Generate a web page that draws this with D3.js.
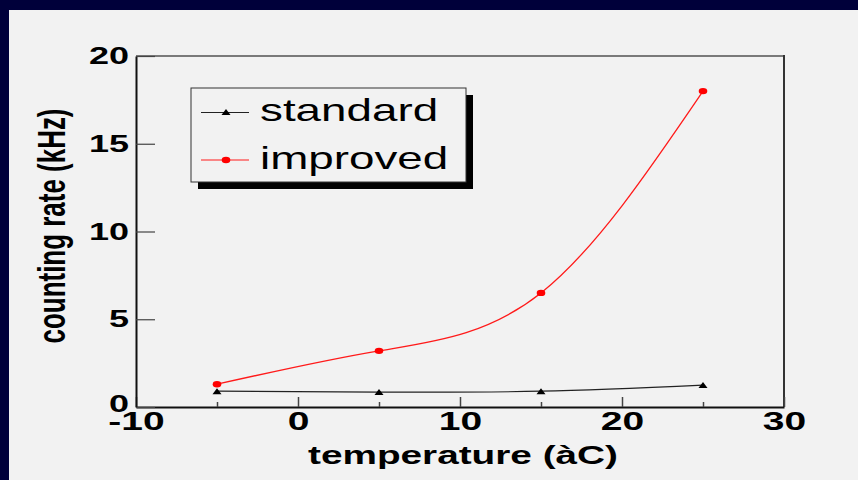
<!DOCTYPE html>
<html>
<head>
<meta charset="utf-8">
<script src="https://cdn.jsdelivr.net/npm/d3@7"></script>
<style>
  html, body { margin: 0; padding: 0; background: #00003a; }
  svg { display: block; }
  text { font-family: "Liberation Sans", Arial, sans-serif; }
</style>
</head>
<body>
<svg id="chart" width="858" height="480"></svg>
<script>
// Measured counting rates versus temperature
const temperatures = [-5, 5, 15, 25];
const standardRate = [0.9, 0.85, 0.9, 1.25];
const improvedRate = [1.3, 3.2, 6.5, 18];
const seriesNames = ["standard", "improved"];
const xMajorTicks = [-10, 0, 10, 20, 30];
const xMinorTicks = [-5, 5, 15, 25];
const yTicks = [0, 5, 10, 15, 20];
const xTitle = "temperature (àC)";
const yTitle = "counting rate (kHz)";

const W = 858, H = 480;
const frame = { left: 136, right: 784, top: 56, bottom: 407 };
const stretch = 1.5; // horizontal text widening

const svg = d3.select("#chart");

// backdrop and canvas
svg.append("rect").attr("width", W).attr("height", H).attr("fill", "#00003a");
svg.append("rect").attr("x", 9).attr("y", 10).attr("width", W - 9).attr("height", H - 10)
  .attr("fill", "#f2f2f2");

const x = d3.scaleLinear().domain([-10, 30]).range([frame.left, frame.right]);
const y = d3.scaleLinear().domain([0, 20]).range([frame.bottom, frame.top]);

function widen(sel, factor) {
  sel.each(function () {
    const w = this.getComputedTextLength();
    d3.select(this).attr("textLength", w * factor).attr("lengthAdjust", "spacingAndGlyphs");
  });
}

// frame: top and right edges
svg.append("line").attr("x1", frame.left).attr("x2", frame.right)
  .attr("y1", frame.top).attr("y2", frame.top)
  .attr("stroke", "#7a7a7a").attr("stroke-width", 2);
svg.append("line").attr("x1", frame.right).attr("x2", frame.right)
  .attr("y1", frame.top - 1).attr("y2", frame.bottom)
  .attr("stroke", "#333").attr("stroke-width", 2);

// x axis, major ticks with labels (plain hyphen for negatives)
const xAxis = svg.append("g").attr("transform", `translate(0,${frame.bottom})`)
  .call(d3.axisBottom(x).tickValues(xMajorTicks).tickSizeInner(-10).tickSizeOuter(0).tickPadding(5)
    .tickFormat(d => String(d)));
xAxis.select(".domain").attr("stroke", "#111").attr("stroke-width", 2);
xAxis.selectAll(".tick line").attr("stroke", "#444").attr("stroke-width", 1.5);
xAxis.selectAll(".tick text").attr("font-size", 26).attr("font-weight", "bold").attr("fill", "#000")
  .attr("font-family", "Liberation Sans, Arial, sans-serif");
widen(xAxis.selectAll(".tick text"), stretch);

// x axis minor ticks
const xMinor = svg.append("g").attr("transform", `translate(0,${frame.bottom})`)
  .call(d3.axisBottom(x).tickValues(xMinorTicks).tickSizeInner(-5).tickSizeOuter(0).tickFormat(""));
xMinor.select(".domain").remove();
xMinor.selectAll(".tick line").attr("stroke", "#444").attr("stroke-width", 1.5);

// y axis
const yAxis = svg.append("g").attr("transform", `translate(${frame.left},0)`)
  .call(d3.axisLeft(y).tickValues(yTicks).tickSizeInner(-19).tickSizeOuter(0).tickPadding(7)
    .tickFormat(d => String(d)));
yAxis.select(".domain").attr("stroke", "#111").attr("stroke-width", 2);
yAxis.selectAll(".tick line").attr("stroke", "#444").attr("stroke-width", 1.2);
yAxis.selectAll(".tick text").attr("font-size", 24).attr("font-weight", "bold").attr("fill", "#000")
  .attr("font-family", "Liberation Sans, Arial, sans-serif");
// lift the zero label just clear of the x labels
yAxis.selectAll(".tick text").filter(d => d === 0).attr("dy", "0.18em");
widen(yAxis.selectAll(".tick text"), stretch);

// axis titles
svg.append("text").attr("x", 463).attr("y", 464).attr("text-anchor", "middle")
  .attr("font-size", 26).attr("font-weight", "bold").attr("fill", "#000")
  .attr("textLength", 310).attr("lengthAdjust", "spacingAndGlyphs").text(xTitle);

svg.append("text").attr("transform", "translate(65,226) rotate(-90)").attr("text-anchor", "middle")
  .attr("font-size", 38).attr("font-weight", "bold").attr("fill", "#000")
  .attr("textLength", 235).attr("lengthAdjust", "spacingAndGlyphs").text(yTitle);

// series curves
const rows = temperatures.map((t, i) => ({ t, s: standardRate[i], m: improvedRate[i] }));
const curveOf = key => d3.line().x(d => x(d.t)).y(d => y(d[key])).curve(d3.curveNatural);

svg.append("path").datum(rows).attr("d", curveOf("s"))
  .attr("fill", "none").attr("stroke", "#222").attr("stroke-width", 1.2);
svg.append("path").datum(rows).attr("d", curveOf("m"))
  .attr("fill", "none").attr("stroke", "#ff1a1a").attr("stroke-width", 1.3);

const tri = (cx, cy) => `M${cx - 4.5},${cy + 3}L${cx + 4.5},${cy + 3}L${cx},${cy - 3}Z`;

svg.append("g").selectAll("path").data(rows).join("path")
  .attr("d", d => tri(x(d.t), y(d.s))).attr("fill", "#000");
svg.append("g").selectAll("ellipse").data(rows).join("ellipse")
  .attr("cx", d => x(d.t)).attr("cy", d => y(d.m)).attr("rx", 4.3).attr("ry", 3.2)
  .attr("fill", "#ff0000");

// legend with drop shadow
const lg = { x: 191, y: 88, w: 275, h: 94 };
svg.append("rect").attr("x", lg.x + 7).attr("y", lg.y + 7).attr("width", lg.w).attr("height", lg.h)
  .attr("fill", "#000");
svg.append("rect").attr("x", lg.x).attr("y", lg.y).attr("width", lg.w).attr("height", lg.h)
  .attr("fill", "#f2f2f2").attr("stroke", "#333").attr("stroke-width", 1);

const legendRows = [
  { name: seriesNames[0], y: 112.5, color: "#222", marker: "tri" },
  { name: seriesNames[1], y: 160, color: "#ff1a1a", marker: "dot" }
];
legendRows.forEach(r => {
  svg.append("line").attr("x1", 201).attr("x2", 249).attr("y1", r.y).attr("y2", r.y)
    .attr("stroke", r.color).attr("stroke-width", 1.2);
  if (r.marker === "tri") {
    svg.append("path").attr("d", tri(226, r.y - 0.5)).attr("fill", "#000");
  } else {
    svg.append("ellipse").attr("cx", 226).attr("cy", r.y).attr("rx", 4.3).attr("ry", 3.2).attr("fill", "#ff0000");
  }
  const t = svg.append("text").attr("x", 260).attr("y", r.y + 8.5)
    .attr("font-size", 32).attr("fill", "#000").text(r.name);
  widen(t, 1.43);
});
</script>
</body>
</html>
